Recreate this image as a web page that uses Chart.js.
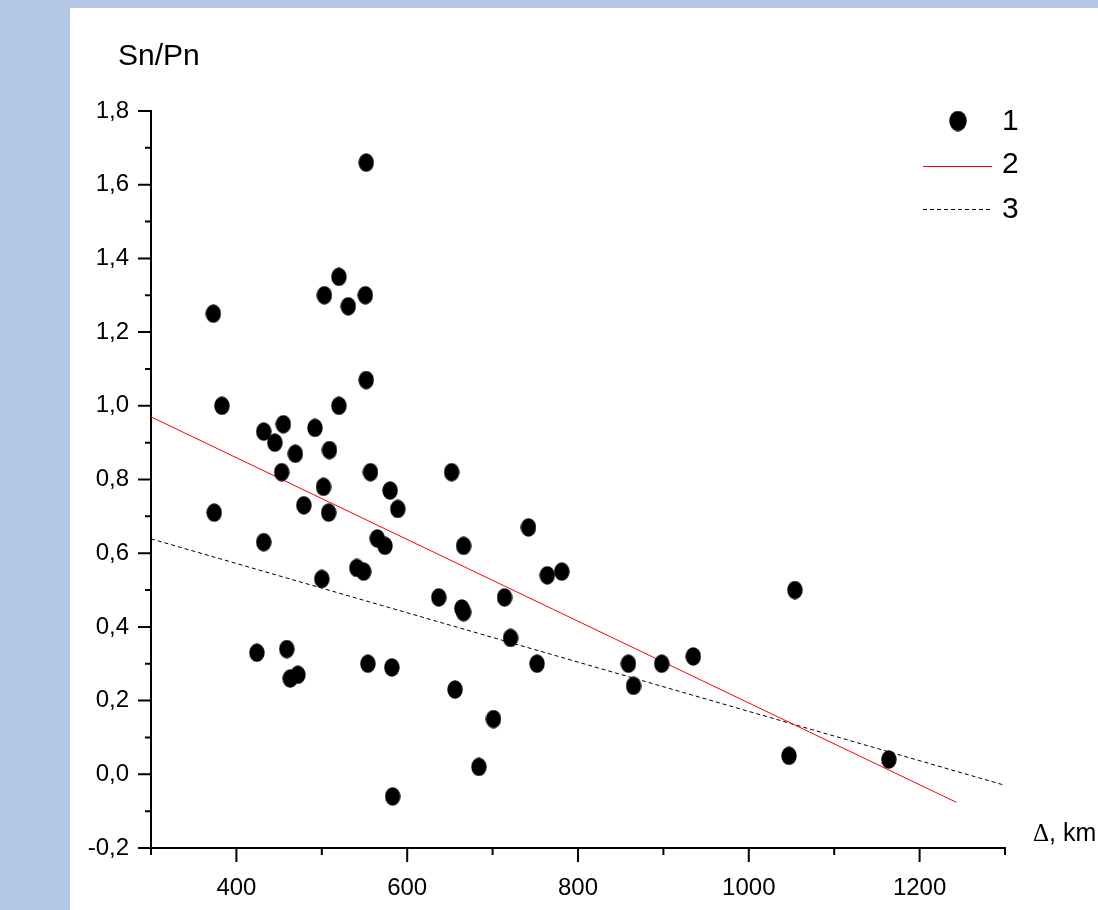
<!DOCTYPE html>
<html>
<head>
<meta charset="utf-8">
<title>Sn/Pn vs distance</title>
<script src="https://cdn.jsdelivr.net/npm/chart.js@4"></script>
<style>
  body { margin: 0; background: #b4c7e7; width: 1098px; height: 910px; overflow: hidden; }
  #panel { position: absolute; left: 70px; top: 8px; width: 1028px; height: 902px; background: #fff; }
  canvas { display: block; }
</style>
</head>
<body>
<div id="panel"><canvas id="myChart" width="1028" height="902"></canvas></div>
<script>
// measured points (series 1)
var dist  = [373, 520, 503, 551, 531, 552, 552, 383, 520, 455, 432, 445, 492, 469, 509, 453, 557,
             652, 502, 580, 479, 374, 508, 589, 742, 432, 565, 574, 666, 541, 549, 500, 764, 781,
             1054, 637, 714, 664, 666, 721, 424, 459, 472, 463, 554, 582, 752, 859, 898, 935, 865,
             656, 701, 684, 1047, 1164, 583];
var ratio = [1.25, 1.35, 1.30, 1.30, 1.27, 1.66, 1.07, 1.00, 1.00, 0.95, 0.93, 0.90, 0.94, 0.87, 0.88, 0.82, 0.82,
             0.82, 0.78, 0.77, 0.73, 0.71, 0.71, 0.72, 0.67, 0.63, 0.64, 0.62, 0.62, 0.56, 0.55, 0.53, 0.54, 0.55,
             0.50, 0.48, 0.48, 0.45, 0.44, 0.37, 0.33, 0.34, 0.27, 0.26, 0.30, 0.29, 0.30, 0.30, 0.30, 0.32, 0.24,
             0.23, 0.15, 0.02, 0.05, 0.04, -0.06];

// line 2 (red) and line 3 (dashed) end points
var fit2X = [300, 1243];
var fit2Y = [0.970, -0.076];
var fit3X = [300, 1300];
var fit3Y = [0.639, -0.030];

// ticks
var xMajor = [400, 600, 800, 1000, 1200];
var xMinor = [300, 500, 700, 900, 1100, 1300];
var yMajor = [-0.2, 0.0, 0.2, 0.4, 0.6, 0.8, 1.0, 1.2, 1.4, 1.6, 1.8];
var yMinor = [-0.1, 0.1, 0.3, 0.5, 0.7, 0.9, 1.1, 1.3, 1.5, 1.7];

var legendLabels = ['1', '2', '3'];

function pairs(xa, ya) {
    return xa.map(function (x, i) { return { x: x, y: ya[i] }; });
}

function ellipse(w, h) {
    var c = document.createElement('canvas');
    c.width = w; c.height = h;
    var g = c.getContext('2d');
    g.fillStyle = '#000';
    g.beginPath();
    g.ellipse(w / 2, h / 2, w / 2 - 0.3, h / 2 - 0.3, 0, 0, Math.PI * 2);
    g.fill();
    return c;
}
var dot = ellipse(16, 19);
var bigDot = ellipse(18, 21);

var SANS = '"Liberation Sans", Arial, sans-serif';

// axis ticks, titles and the legend
var extras = {
    id: 'extras',
    afterDraw: function (chart) {
        var ctx = chart.ctx, xs = chart.scales.x, ys = chart.scales.y;
        var a = chart.chartArea;
        ctx.save();
        ctx.strokeStyle = '#000';
        ctx.lineWidth = 2;
        ctx.beginPath();
        xMajor.forEach(function (v) { var p = xs.getPixelForValue(v); ctx.moveTo(p, a.bottom); ctx.lineTo(p, a.bottom + 14); });
        xMinor.forEach(function (v) { var p = xs.getPixelForValue(v); ctx.moveTo(p, a.bottom); ctx.lineTo(p, a.bottom + 7); });
        yMajor.forEach(function (v) { var p = ys.getPixelForValue(v); ctx.moveTo(a.left, p); ctx.lineTo(a.left - 13, p); });
        yMinor.forEach(function (v) { var p = ys.getPixelForValue(v); ctx.moveTo(a.left, p); ctx.lineTo(a.left - 6, p); });
        ctx.stroke();

        ctx.fillStyle = '#000';
        ctx.textBaseline = 'middle';
        ctx.textAlign = 'left';
        ctx.font = '30px ' + SANS;
        ctx.fillText('Sn/Pn', 48, 49);

        ctx.font = '25px "Liberation Serif", serif';
        ctx.fillText('\u0394', 963, 826);
        var w = ctx.measureText('\u0394').width;
        ctx.font = '25px ' + SANS;
        ctx.fillText(', km', 963 + w, 826);

        // legend
        ctx.font = '30px ' + SANS;
        ctx.drawImage(bigDot, 888 - 9, 113 - 10.5);
        ctx.fillText(legendLabels[0], 932, 114);

        ctx.lineWidth = 1;
        ctx.strokeStyle = '#ff0000';
        ctx.beginPath(); ctx.moveTo(853, 158.5); ctx.lineTo(922, 158.5); ctx.stroke();
        ctx.fillText(legendLabels[1], 932, 157);

        ctx.strokeStyle = '#000';
        ctx.setLineDash([4, 3]);
        ctx.beginPath(); ctx.moveTo(853, 201.5); ctx.lineTo(922, 201.5); ctx.stroke();
        ctx.setLineDash([]);
        ctx.fillText(legendLabels[2], 932, 202);
        ctx.restore();
    }
};

var ctx = document.getElementById('myChart').getContext('2d');
var chart = new Chart(ctx, {
    type: 'scatter',
    data: {
        datasets: [{
            label: legendLabels[0],
            data: pairs(dist, ratio),
            pointStyle: dot,
            pointRadius: 8,
            backgroundColor: '#000',
            borderColor: '#000'
        }, {
            type: 'line',
            label: legendLabels[1],
            data: pairs(fit2X, fit2Y),
            borderColor: '#ff0000',
            borderWidth: 1,
            pointRadius: 0,
            fill: false
        }, {
            type: 'line',
            label: legendLabels[2],
            data: pairs(fit3X, fit3Y),
            borderColor: '#000',
            borderWidth: 1,
            borderDash: [4, 3],
            pointRadius: 0,
            fill: false
        }]
    },
    options: {
        responsive: false,
        animation: false,
        events: [],
        layout: { padding: { left: 0, top: 103, right: 93, bottom: 0 } },
        plugins: {
            legend: { display: false },
            tooltip: { enabled: false }
        },
        scales: {
            x: {
                type: 'linear',
                min: 300,
                max: 1300,
                afterBuildTicks: function (s) { s.ticks = xMajor.map(function (v) { return { value: v }; }); },
                afterFit: function (s) { s.height = 62; },
                grid: { display: false, drawTicks: false },
                border: { display: true, color: '#000', width: 2 },
                ticks: {
                    color: '#000',
                    padding: 26,
                    maxRotation: 0,
                    font: { family: SANS, size: 24 },
                    callback: function (v) { return String(v); }
                }
            },
            y: {
                type: 'linear',
                min: -0.2,
                max: 1.8,
                afterBuildTicks: function (s) { s.ticks = yMajor.map(function (v) { return { value: v }; }); },
                afterFit: function (s) { s.width = 81; },
                grid: { display: false, drawTicks: false },
                border: { display: true, color: '#000', width: 2 },
                ticks: {
                    color: '#000',
                    padding: 22,
                    font: { family: SANS, size: 24 },
                    callback: function (v) { return v.toFixed(1).replace('.', ','); }
                }
            }
        }
    },
    plugins: [extras]
});
</script>
</body>
</html>
